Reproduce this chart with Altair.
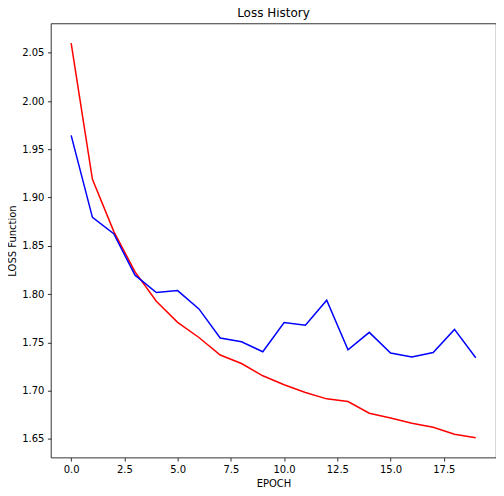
import altair as alt
import pandas as pd

epochs = list(range(20))
train_loss = [2.060, 1.919, 1.865, 1.823, 1.7925, 1.7707, 1.755, 1.7368, 1.728, 1.7153,
              1.706, 1.698, 1.6914, 1.6886, 1.6765, 1.6716, 1.6661, 1.662, 1.6547, 1.651]
val_loss = [1.9645, 1.8795, 1.8625, 1.8196, 1.8016, 1.8036, 1.7846, 1.7545, 1.7506, 1.7402,
            1.7704, 1.7676, 1.7936, 1.7423, 1.7603, 1.7389, 1.7347, 1.7395, 1.7634, 1.734]
x_ticks = [0.0, 2.5, 5.0, 7.5, 10.0, 12.5, 15.0, 17.5]
y_ticks = [1.65, 1.70, 1.75, 1.80, 1.85, 1.90, 1.95, 2.00, 2.05]

rows = []
for e, v in zip(epochs, train_loss):
    rows.append({"epoch": e, "loss": v, "series": "train"})
for e, v in zip(epochs, val_loss):
    rows.append({"epoch": e, "loss": v, "series": "val"})
df = pd.DataFrame(rows)

font = "DejaVu Sans"
ymin, ymax = min(train_loss + val_loss), max(train_loss + val_loss)
ypad = (ymax - ymin) * 0.05

chart = alt.Chart(df).mark_line(strokeWidth=1.5).encode(
    x=alt.X("epoch:Q",
            scale=alt.Scale(domain=[-0.95, 19.95], nice=False, zero=False),
            axis=alt.Axis(title="EPOCH", values=x_ticks, format=".1f", grid=False,
                          tickSize=3.5, tickColor="black", tickWidth=0.8,
                          domain=False, labelPadding=3.5, titlePadding=3.5,
                          labelFont=font, labelFontSize=10, labelColor="black",
                          titleFont=font, titleFontSize=10, titleFontWeight="normal",
                          titleColor="black", labelFlush=False)),
    y=alt.Y("loss:Q",
            scale=alt.Scale(domain=[ymin - ypad, ymax + ypad], nice=False, zero=False),
            axis=alt.Axis(title="LOSS Function", values=y_ticks, format=".2f", grid=False,
                          tickSize=3.5, tickColor="black", tickWidth=0.8,
                          domain=False, labelPadding=3.5, titlePadding=4,
                          labelFont=font, labelFontSize=10, labelColor="black",
                          titleFont=font, titleFontSize=10, titleFontWeight="normal",
                          titleColor="black", labelFlush=False)),
    color=alt.Color("series:N",
                    scale=alt.Scale(domain=["train", "val"], range=["red", "blue"]),
                    legend=None),
    detail="series:N",
).properties(
    width=446,
    height=435,
    title=alt.TitleParams("Loss History", font=font, fontSize=12, fontWeight="normal",
                          color="black", offset=3, anchor="middle"),
    autosize=alt.AutoSizeParams(type="none"),
    padding={"left": 43, "top": 15, "right": 0, "bottom": 30},
).configure_view(
    stroke="black", strokeWidth=0.8
)

chart.save("out.html", embed_options={"renderer": "svg", "actions": False})
